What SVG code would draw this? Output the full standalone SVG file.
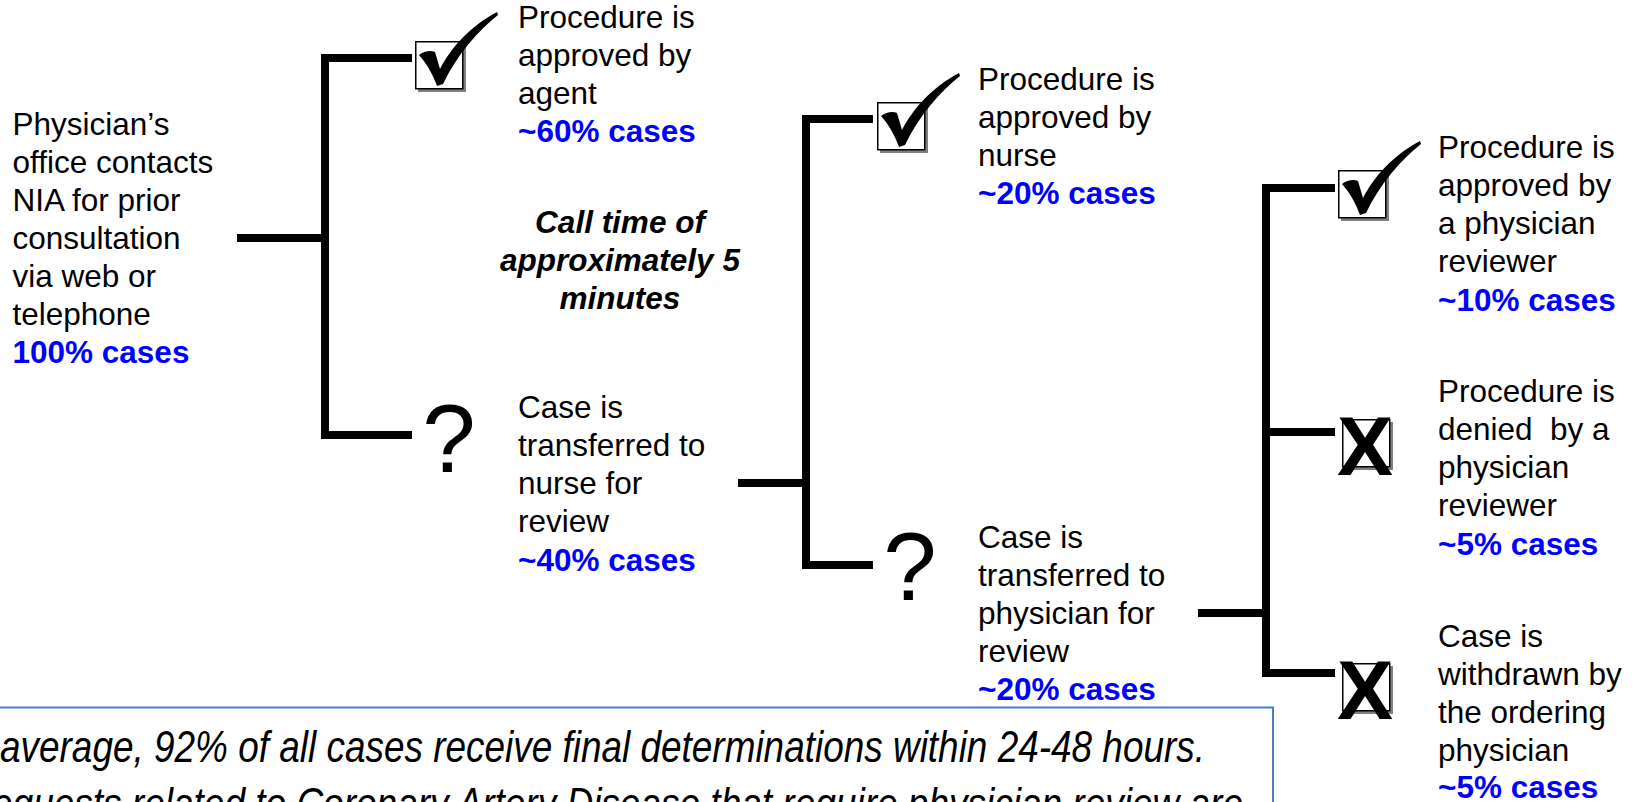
<svg xmlns="http://www.w3.org/2000/svg" xmlns:xlink="http://www.w3.org/1999/xlink" width="1639" height="802" viewBox="0 0 1639 802">
<style>
  .t { font-family: "Liberation Sans", Arial, sans-serif; font-size: 31.5px; fill: #000; }
  .b { font-family: "Liberation Sans", Arial, sans-serif; font-size: 31.5px; font-weight: bold; fill: #0000FF; }
  .ci { font-family: "Liberation Sans", Arial, sans-serif; font-size: 31.5px; font-weight: bold; font-style: italic; fill: #000; }
  .q { font-family: "Liberation Sans", Arial, sans-serif; font-size: 96px; fill: #000; }
  .x { font-family: "Liberation Sans", Arial, sans-serif; font-size: 84px; font-weight: bold; fill: #000; }
  .note { font-family: "Liberation Sans", Arial, sans-serif; font-size: 44px; font-style: italic; fill: #000; }
  .ln { fill: none; stroke: #000; stroke-width: 8; stroke-linejoin: miter; stroke-linecap: butt; }
</style>
<defs>
  <g id="box">
    <rect x="3" y="3" width="48" height="48" fill="#808080"/>
    <rect x="0.75" y="0.75" width="47" height="47" fill="#fff" stroke="#000" stroke-width="1.5"/>
  </g>
  <g id="check">
    <use xlink:href="#box"/>
    <path d="M4,14 C9,10 16,9 20,11 L25,28 C35,8 55,-15 82,-29 L83,-26 C63,-10 43,12 28,43 L22,45 C18,34 12,23 4,14 Z" fill="#000"/>
  </g>
</defs>
<rect x="0" y="0" width="1639" height="802" fill="#fff"/>

<g id="connectors">
  <path class="ln" d="M237,238 H325"/>
  <path class="ln" d="M412,58 H325 V435 H412"/>
  <path class="ln" d="M738,483 H806"/>
  <path class="ln" d="M873,119 H806 V565 H873"/>
  <path class="ln" d="M1198,613 H1266"/>
  <path class="ln" d="M1335,188 H1266 V673 H1335"/>
  <path class="ln" d="M1266,432 H1335"/>
</g>

<g id="node-start">
  <text class="t" x="12.5" y="135">Physician’s</text>
  <text class="t" x="12.5" y="173">office contacts</text>
  <text class="t" x="12.5" y="211">NIA for prior</text>
  <text class="t" x="12.5" y="249">consultation</text>
  <text class="t" x="12.5" y="287">via web or</text>
  <text class="t" x="12.5" y="325">telephone</text>
  <text class="b" x="12.5" y="363">100% cases</text>
</g>

<g id="node-agent">
  <use xlink:href="#check" x="415" y="41"/>
  <text class="t" x="518" y="28">Procedure is</text>
  <text class="t" x="518" y="66">approved by</text>
  <text class="t" x="518" y="104">agent</text>
  <text class="b" x="518" y="142">~60% cases</text>
</g>

<g id="note-calltime">
  <text class="ci" x="620" y="233" text-anchor="middle">Call time of</text>
  <text class="ci" x="620" y="271" text-anchor="middle">approximately 5</text>
  <text class="ci" x="620" y="309" text-anchor="middle">minutes</text>
</g>

<g id="node-to-nurse">
  <text class="q" x="449" y="472" text-anchor="middle">?</text>
  <text class="t" x="518" y="418">Case is</text>
  <text class="t" x="518" y="456">transferred to</text>
  <text class="t" x="518" y="494">nurse for</text>
  <text class="t" x="518" y="532">review</text>
  <text class="b" x="518" y="571">~40% cases</text>
</g>

<g id="node-nurse">
  <use xlink:href="#check" x="877" y="102"/>
  <text class="t" x="978" y="90">Procedure is</text>
  <text class="t" x="978" y="128">approved by</text>
  <text class="t" x="978" y="166">nurse</text>
  <text class="b" x="978" y="204">~20% cases</text>
</g>

<g id="node-to-physician">
  <text class="q" x="910" y="600" text-anchor="middle">?</text>
  <text class="t" x="978" y="548">Case is</text>
  <text class="t" x="978" y="586">transferred to</text>
  <text class="t" x="978" y="624">physician for</text>
  <text class="t" x="978" y="662">review</text>
  <text class="b" x="978" y="700">~20% cases</text>
</g>

<g id="node-approved-physician">
  <use xlink:href="#check" x="1338" y="170"/>
  <text class="t" x="1438" y="158">Procedure is</text>
  <text class="t" x="1438" y="196">approved by</text>
  <text class="t" x="1438" y="234">a physician</text>
  <text class="t" x="1438" y="272">reviewer</text>
  <text class="b" x="1438" y="311">~10% cases</text>
</g>

<g id="node-denied">
  <use xlink:href="#box" x="1342" y="419"/>
  <text class="x" x="1365" y="475" text-anchor="middle">X</text>
  <text class="t" x="1438" y="402">Procedure is</text>
  <text class="t" x="1438" y="440" xml:space="preserve">denied  by a</text>
  <text class="t" x="1438" y="478">physician</text>
  <text class="t" x="1438" y="516">reviewer</text>
  <text class="b" x="1438" y="555">~5% cases</text>
</g>

<g id="node-withdrawn">
  <use xlink:href="#box" x="1342" y="663"/>
  <text class="x" x="1365" y="719" text-anchor="middle">X</text>
  <text class="t" x="1438" y="647">Case is</text>
  <text class="t" x="1438" y="685">withdrawn by</text>
  <text class="t" x="1438" y="723">the ordering</text>
  <text class="t" x="1438" y="761">physician</text>
  <text class="b" x="1438" y="798">~5% cases</text>
</g>

<g id="note-box">
  <rect x="-5" y="707.5" width="1278" height="110" fill="none" stroke="#4A7EBB" stroke-width="2"/>
  <text class="note" x="0" y="762" textLength="1205" lengthAdjust="spacingAndGlyphs">average, 92% of all cases receive final determinations within 24-48 hours.</text>
  <text class="note" x="-8" y="819" textLength="1251" lengthAdjust="spacingAndGlyphs">equests related to Coronary Artery Disease that require physician review are</text>
</g>
</svg>
